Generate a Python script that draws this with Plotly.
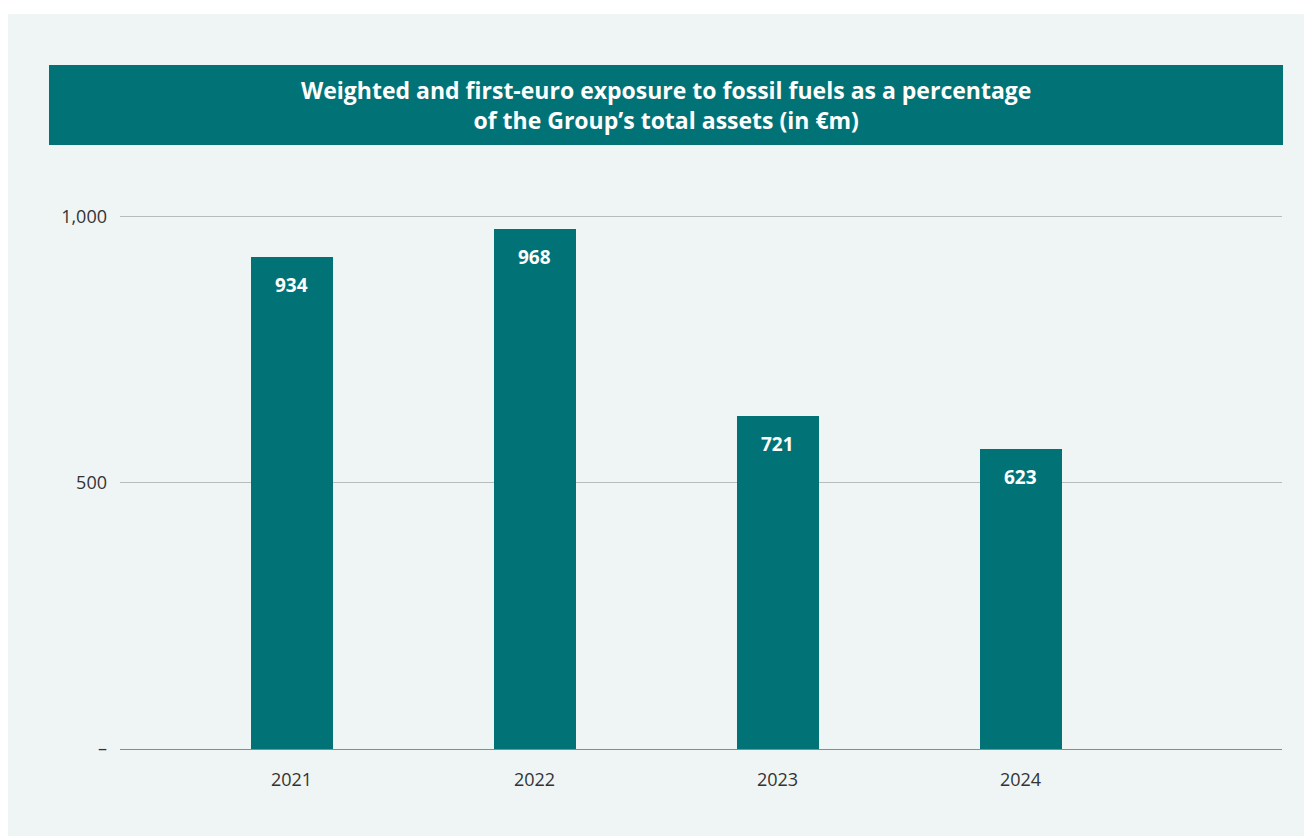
import plotly.graph_objects as go

# Data
years = ["2021", "2022", "2023", "2024"]
bar_heights = [924, 977, 626, 564]       # drawn bar heights
bar_labels = ["934", "968", "721", "623"]  # printed values
y_ticks = [0, 500, 1000]
y_tick_text = ["–", "500", "1,000"]

title_text = ("<b>Weighted and first-euro exposure to fossil fuels as a percentage<br>"
              "of the Group’s total assets (in €m)</b>")

TEAL = "#017377"
PANEL = "#eff5f5"
FONT = "Open Sans"

# plot area in figure pixels (page adds an 8px body margin)
L, R, T, B = 112, 1274, 162, 741
W, H = R - L, B - T


def px(x):
    return (x - L) / W


def py(y):
    return (B - y) / H


fig = go.Figure(go.Bar(
    x=years, y=bar_heights, width=0.3375,
    marker=dict(color=TEAL, line=dict(width=0)),
    hoverinfo="skip",
))

# value labels inside bars
for i, (h, lab) in enumerate(zip(bar_heights, bar_labels)):
    fig.add_annotation(x=i, y=h, text=f"<b>{lab}</b>", showarrow=False,
                       yshift=-28, font=dict(family=FONT, size=19, color="white"))

# background panel and title banner
fig.add_shape(type="rect", xref="paper", yref="paper", layer="below",
              x0=px(0), x1=px(1330), y0=py(6), y1=py(850),
              fillcolor=PANEL, line=dict(width=0))
fig.add_shape(type="rect", xref="paper", yref="paper", layer="below",
              x0=px(41), x1=px(1275), y0=py(57), y1=py(137),
              fillcolor=TEAL, line=dict(width=0))
fig.add_annotation(xref="paper", yref="paper", x=px(657.5), y=py(97),
                   xanchor="center", yanchor="middle",
                   text=title_text, showarrow=False, align="center",
                   font=dict(family=FONT, size=23, color="white"))

fig.update_layout(
    width=1312, height=836,
    margin=dict(l=L, r=1312 - R, t=T, b=836 - B),
    paper_bgcolor="white", plot_bgcolor="rgba(0,0,0,0)",
    showlegend=False, bargap=0,
    font=dict(family=FONT, size=18, color="#333333"),
)
fig.update_xaxes(type="category", range=[-0.706, 4.076], showgrid=False,
                 showline=False, zeroline=False, ticks="outside", ticklen=14,
                 tickcolor="rgba(0,0,0,0)", tickfont=dict(size=18))
fig.update_yaxes(range=[0, H / 0.5326], tickvals=y_ticks, ticktext=y_tick_text,
                 showgrid=True, gridcolor="#b8bbbb", gridwidth=1,
                 zeroline=True, zerolinecolor="#8a8a8a", zerolinewidth=1.3,
                 showline=False, ticklabelstandoff=12,
                 tickfont=dict(size=18))

fig.write_html("out.html")
